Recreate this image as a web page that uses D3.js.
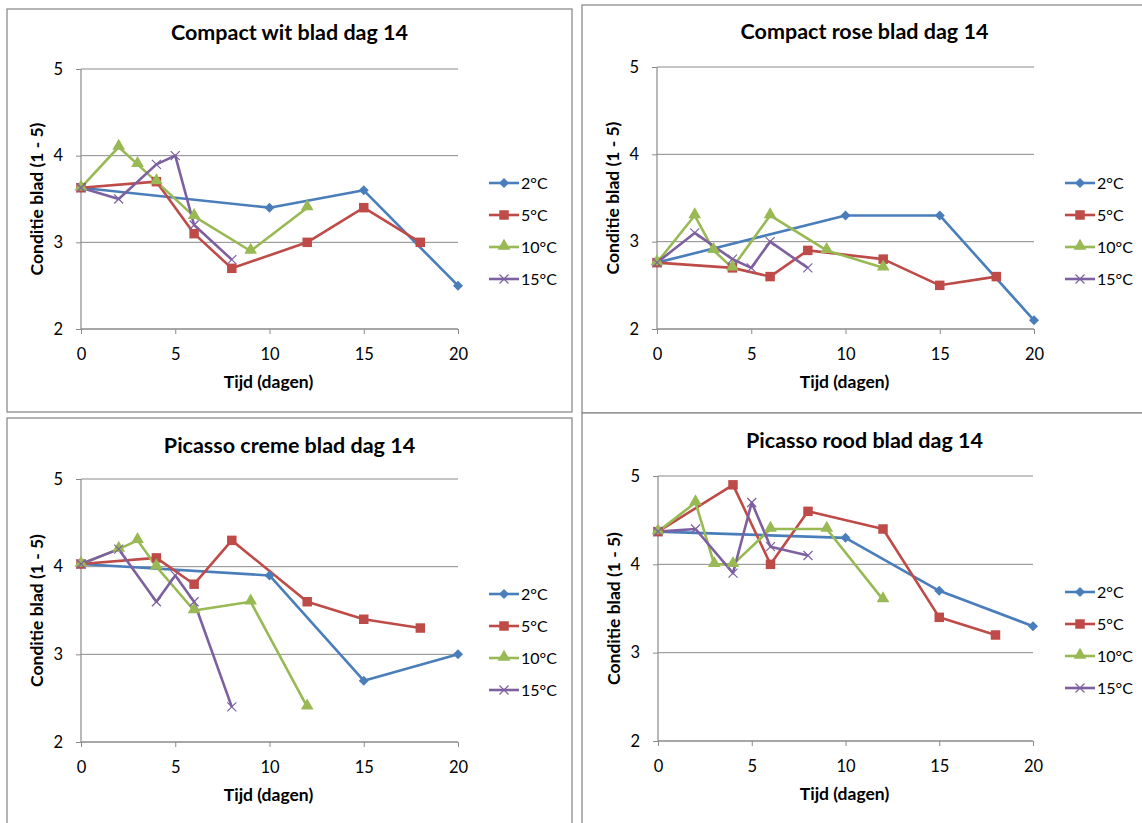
<!DOCTYPE html>
<html>
<head>
<meta charset="utf-8" />
<title></title>
<style>
html, body {
    padding: 0px;
    margin: 0px;
    background: #fff;
}
svg text {
    font-family: Lato, "Open Sans", sans-serif;
    fill: #000;
}
</style>
</head>
<body>
<svg id="chart" width="1142" height="823"></svg>

<script src="https://cdnjs.cloudflare.com/ajax/libs/d3/7.8.5/d3.min.js"></script>
<script>
!(function(){
    "use strict";

    // series labels and the days on which each series was measured
    var temps = ["2°C", "5°C", "10°C", "15°C"];
    var days2 = [0, 10, 15, 20];
    var days5 = [0, 4, 6, 8, 12, 15, 18];
    var days10 = [0, 2, 3, 4, 6, 9, 12];
    var days15 = [0, 2, 4, 5, 6, 8];

    var xTicks = [0, 5, 10, 15, 20];
    var yTicks = [2, 3, 4, 5];

    var titles = ["Compact wit blad dag 14", "Compact rose blad dag 14",
                  "Picasso creme blad dag 14", "Picasso rood blad dag 14"];

    // condition values per temperature (2, 5, 10, 15 °C)
    var compactWit = [
        [3.63, 3.4, 3.6, 2.5],
        [3.63, 3.7, 3.1, 2.7, 3.0, 3.4, 3.0],
        [3.63, 4.1, 3.9, 3.7, 3.3, 2.9, 3.4],
        [3.63, 3.5, 3.9, 4.0, 3.2, 2.8]
    ];
    var compactRose = [
        [2.76, 3.3, 3.3, 2.1],
        [2.76, 2.7, 2.6, 2.9, 2.8, 2.5, 2.6],
        [2.76, 3.3, 2.9, 2.7, 3.3, 2.9, 2.7],
        [2.76, 3.1, 2.8, 2.7, 3.0, 2.7]
    ];
    var picassoCreme = [
        [4.03, 3.9, 2.7, 3.0],
        [4.03, 4.1, 3.8, 4.3, 3.6, 3.4, 3.3],
        [4.03, 4.2, 4.3, 4.0, 3.5, 3.6, 2.4],
        [4.03, 4.2, 3.6, 3.9, 3.6, 2.4]
    ];
    var picassoRood = [
        [4.37, 4.3, 3.7, 3.3],
        [4.37, 4.9, 4.0, 4.6, 4.4, 3.4, 3.2],
        [4.37, 4.7, 4.0, 4.0, 4.4, 4.4, 3.6],
        [4.37, 4.4, 3.9, 4.7, 4.2, 4.1]
    ];

    var allDays = [days2, days5, days10, days15];
    var colors = ["#4a7ebb", "#be4b48", "#98b954", "#7d60a0"];

    var panels = [
        {values: compactWit,   box: [7, 9, 565, 403],    x0: 81,  x1: 458,  y0: 69,  y1: 329, titleY: 40,  legendX: 489,  legendY: 183},
        {values: compactRose,  box: [582, 5, 570, 408],  x0: 657, x1: 1034, y0: 67,  y1: 329, titleY: 39,  legendX: 1065, legendY: 183},
        {values: picassoCreme, box: [7, 418, 565, 420],  x0: 81,  x1: 458,  y0: 479, y1: 742, titleY: 453, legendX: 489,  legendY: 594},
        {values: picassoRood,  box: [582, 413, 570, 420], x0: 658, x1: 1033, y0: 476, y1: 741, titleY: 448, legendX: 1065, legendY: 592}
    ];

    var svg = d3.select("#chart");

    panels.forEach(function(p, i) {
        drawPanel(p, i);
    });

    function marker(g, k, x, y) {
        var c = colors[k];
        if (k === 0) {
            g.append("path")
                .attr("d", d3.symbol().type(d3.symbolSquare).size(50)())
                .attr("transform", "translate(" + x + "," + y + ") rotate(45)")
                .attr("fill", c);
        } else if (k === 1) {
            g.append("path")
                .attr("d", d3.symbol().type(d3.symbolSquare).size(90)())
                .attr("transform", "translate(" + x + "," + y + ")")
                .attr("fill", c);
        } else if (k === 2) {
            g.append("path")
                .attr("d", d3.symbol().type(d3.symbolTriangle).size(70)())
                .attr("transform", "translate(" + x + "," + (y - 1) + ")")
                .attr("fill", c);
        } else {
            var s = 4.5;
            g.append("path")
                .attr("d", "M" + (x - s) + "," + (y - s) + "L" + (x + s) + "," + (y + s) +
                           "M" + (x - s) + "," + (y + s) + "L" + (x + s) + "," + (y - s))
                .attr("stroke", c)
                .attr("stroke-width", 1.2)
                .attr("fill", "none");
        }
    }

    function drawPanel(p, i) {
        var g = svg.append("g");

        g.append("rect")
            .attr("x", p.box[0]).attr("y", p.box[1])
            .attr("width", p.box[2]).attr("height", p.box[3])
            .attr("fill", "#fff")
            .attr("stroke", "#8c8c8c")
            .attr("stroke-width", 1.3);

        var x = d3.scaleLinear().domain([0, 20]).range([p.x0, p.x1]);
        var y = d3.scaleLinear().domain([2, 5]).range([p.y1, p.y0]);

        // gridlines
        g.selectAll(".grid")
            .data(yTicks)
            .enter().append("line")
            .attr("x1", p.x0).attr("x2", p.x1)
            .attr("y1", function(d) { return y(d); })
            .attr("y2", function(d) { return y(d); })
            .attr("stroke", "#8a8a8a")
            .attr("stroke-width", 1);

        var yAxis = g.append("g")
            .attr("transform", "translate(" + p.x0 + ",0)")
            .call(d3.axisLeft(y).tickValues(yTicks).tickSize(5).tickPadding(13).tickFormat(d3.format("d")));
        var xAxis = g.append("g")
            .attr("transform", "translate(0," + p.y1 + ")")
            .call(d3.axisBottom(x).tickValues(xTicks).tickSize(5).tickPadding(14));

        [xAxis, yAxis].forEach(function(a) {
            a.attr("font-size", null).attr("font-family", null);
            a.select(".domain").attr("stroke", "#8a8a8a").attr("stroke-width", 1.2);
            a.selectAll(".tick line").attr("stroke", "#8a8a8a");
            a.selectAll(".tick text").style("font-size", "16.5px");
        });
        yAxis.select(".domain").attr("d", "M0," + p.y1 + "V" + p.y0);
        xAxis.select(".domain").attr("d", "M" + p.x0 + ",0H" + p.x1);

        // titles
        g.append("text")
            .attr("x", (p.box[0] + p.box[0] + 565) / 2)
            .attr("y", p.titleY)
            .attr("text-anchor", "middle")
            .style("font-size", "21.5px")
            .style("font-weight", "bold")
            .text(titles[i]);

        g.append("text")
            .attr("x", (p.x0 + p.x1) / 2 - 1)
            .attr("y", p.y1 + 59)
            .attr("text-anchor", "middle")
            .style("font-size", "17.5px")
            .style("font-weight", "bold")
            .text("Tijd (dagen)");

        g.append("text")
            .attr("transform", "translate(" + (p.x0 - 38) + "," + ((p.y0 + p.y1) / 2) + ") rotate(-90)")
            .attr("text-anchor", "middle")
            .style("font-size", "17.5px")
            .style("font-weight", "bold")
            .text("Conditie blad (1 - 5)");

        var line = d3.line()
            .x(function(d) { return x(d[0]); })
            .y(function(d) { return y(d[1]); });

        p.values.forEach(function(vals, k) {
            var pts = vals.map(function(v, j) { return [allDays[k][j], v]; });
            g.append("path")
                .datum(pts)
                .attr("d", line)
                .attr("fill", "none")
                .attr("stroke", colors[k])
                .attr("stroke-width", 2.6)
                .attr("stroke-linejoin", "round");
        });
        p.values.forEach(function(vals, k) {
            vals.forEach(function(v, j) {
                marker(g, k, x(allDays[k][j]), y(v));
            });
        });

        // legend
        temps.forEach(function(t, k) {
            var ly = p.legendY + k * 32;
            g.append("line")
                .attr("x1", p.legendX).attr("x2", p.legendX + 30)
                .attr("y1", ly).attr("y2", ly)
                .attr("stroke", colors[k])
                .attr("stroke-width", 2.6);
            marker(g, k, p.legendX + 15, ly);
            g.append("text")
                .attr("x", p.legendX + 32)
                .attr("y", ly + 6)
                .style("font-size", "16px")
                .text(t);
        });
    }

}());
</script>
</body>
</html>
